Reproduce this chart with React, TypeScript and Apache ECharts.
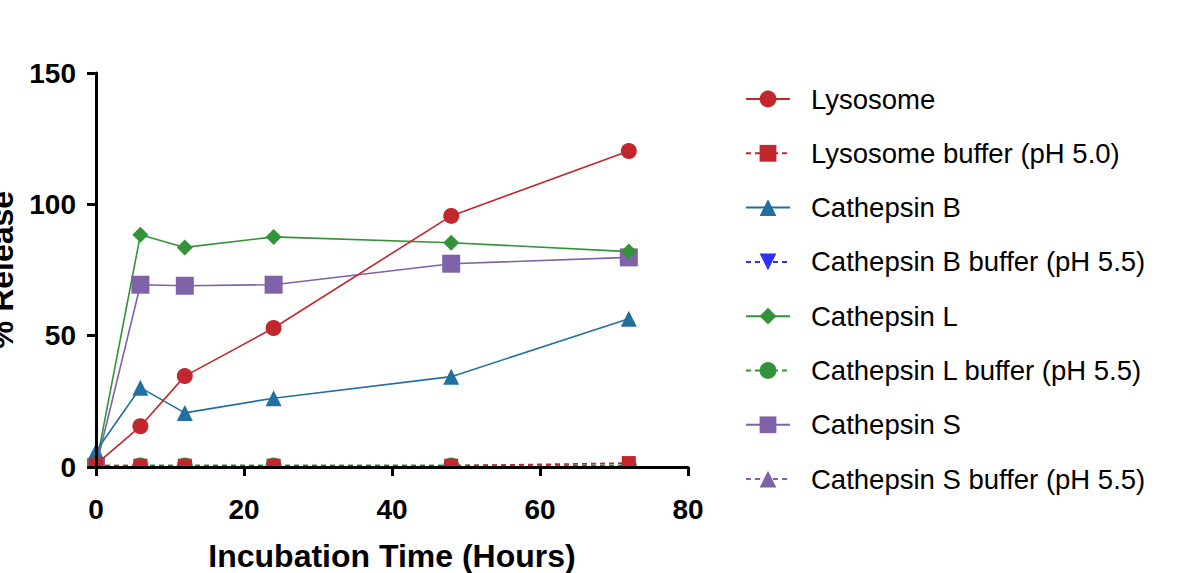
import React, { useEffect, useRef } from "react";
import * as echarts from "echarts";

const times = [0, 6, 12, 24, 48, 72];
const lysosome = [1, 15.5, 34.6, 52.9, 95.6, 120.3];
const lysosomeBuffer = [0.6, 0.5, 0.5, 0.5, 0.5, 1.5];
const cathepsinB = [6, 30.2, 20.6, 26.2, 34.4, 56.4];
const cathepsinBBuffer = [0.2, 0.2, 0.2, 0.2, 0.2, 0.2];
const cathepsinL = [0.5, 88.4, 83.6, 87.6, 85.4, 82.0];
const cathepsinLBuffer = [0.5, 0.6, 0.6, 0.6, 0.6, 0.6];
const cathepsinS = [0, 69.4, 69.0, 69.4, 77.4, 79.8];
const cathepsinSBuffer = [0.4, 0.4, 0.4, 0.4, 0.4, 0.4];
const xTicks = [0, 80, 20];
const yTicks = [0, 150, 50];

const RED = "#c1272d";
const BLUE = "#21709f";
const BBLUE = "#3030ff";
const GREEN = "#33923a";
const PURPLE = "#8062a8";

const pts = (vals: number[]) => times.map((t, i) => [t, vals[i]]);

export default function App() {
  const ref = useRef<HTMLDivElement>(null);
  useEffect(() => {
    const chart = echarts.init(ref.current!, null, { renderer: "svg" });
    const font = "Arial, 'Liberation Sans', sans-serif";
    const mk = (
      name: string,
      vals: number[],
      color: string,
      symbol: string,
      size: number,
      dashed: boolean,
      z: number
    ) => ({
      name,
      type: "line",
      data: pts(vals),
      symbol,
      symbolSize: size,
      z,
      itemStyle: { color },
      lineStyle: { color, width: 1.6, type: dashed ? [5, 4] : "solid" },
      clip: false,
    });
    chart.setOption({
      animation: false,
      textStyle: { fontFamily: font },
      grid: { left: 96, right: 503, top: 73, bottom: 106, outerBoundsMode: "none", containLabel: false },
      xAxis: {
        type: "value",
        min: xTicks[0],
        max: xTicks[1],
        interval: xTicks[2],
        z: 10,
        name: "Incubation Time (Hours)",
        nameLocation: "middle",
        nameGap: 73,
        nameTextStyle: { fontSize: 32, fontWeight: "bold", color: "#000", fontFamily: font },
        axisLine: { lineStyle: { color: "#000", width: 3 } },
        axisTick: { inside: false, length: 9, lineStyle: { color: "#000", width: 3 } },
        axisLabel: { margin: 28, fontSize: 28, fontWeight: "bold", color: "#000", fontFamily: font },
        splitLine: { show: false },
      },
      yAxis: {
        type: "value",
        min: yTicks[0],
        max: yTicks[1],
        interval: yTicks[2],
        z: 10,
        name: "% Release",
        nameLocation: "middle",
        nameGap: 78,
        nameRotate: 90,
        nameTextStyle: { fontSize: 32, fontWeight: "bold", color: "#000", fontFamily: font },
        axisLine: { show: true, lineStyle: { color: "#000", width: 3 } },
        axisTick: { show: true, inside: false, length: 9, lineStyle: { color: "#000", width: 3 } },
        axisLabel: { margin: 20, fontSize: 28, fontWeight: "bold", color: "#000", fontFamily: font },
        splitLine: { show: false },
      },
      legend: {
        orient: "vertical",
        left: 740,
        top: 80,
        itemWidth: 44,
        itemHeight: 21,
        itemGap: 26.3,
        textStyle: { fontSize: 27.5, color: "#000", fontFamily: font, padding: [0, 0, 0, 16] },
        data: [
          "Lysosome",
          "Lysosome buffer (pH 5.0)",
          "Cathepsin B",
          "Cathepsin B buffer (pH 5.5)",
          "Cathepsin L",
          "Cathepsin L buffer (pH 5.5)",
          "Cathepsin S",
          "Cathepsin S buffer (pH 5.5)",
        ],
      },
      graphic: [
        {
          type: "rect",
          z: 5,
          shape: { x: 80, y: 469, width: 640, height: 12 },
          style: { fill: "#fff" },
        },
      ],
      series: [
        mk("Cathepsin S", cathepsinS, PURPLE, "rect", 18, false, 2),
        mk("Cathepsin L", cathepsinL, GREEN, "diamond", 16, false, 2),
        mk("Cathepsin B", cathepsinB, BLUE, "triangle", 16, false, 2),
        mk("Lysosome", lysosome, RED, "circle", 16, false, 3),
        mk("Cathepsin S buffer (pH 5.5)", cathepsinSBuffer, PURPLE, "triangle", 16, true, 3),
        mk("Cathepsin L buffer (pH 5.5)", cathepsinLBuffer, GREEN, "circle", 16, true, 3),
        { ...mk("Cathepsin B buffer (pH 5.5)", cathepsinBBuffer, BBLUE, "triangle", 14, true, 3), symbolRotate: 180 },
        mk("Lysosome buffer (pH 5.0)", lysosomeBuffer, RED, "rect", 14, true, 4),
      ],
    });
    return () => chart.dispose();
  }, []);
  return (
    <div
      ref={ref}
      style={{ position: "fixed", left: 0, top: 0, width: 1191, height: 573, background: "#fff" }}
    />
  );
}
